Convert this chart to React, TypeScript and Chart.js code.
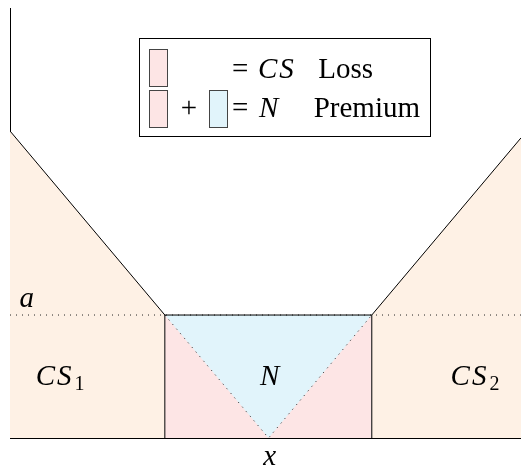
import React, { useEffect, useRef } from "react";
import { Chart, registerables } from "chart.js";

Chart.register(...registerables);

// Kinked demand curve (x, y)
const demandX = [0, 3.03, 7.08, 10];
const demandY = [7.14, 2.86, 2.86, 6.98];
// horizontal level "a" and apex of the N triangle
const aLevel = 2.86;
const apexX = 5.06;
const xRange = [0, 10];
const yRange = [0, 10];

const PEACH = "#fef1e5";
const PINK = "#fde5e5";
const BLUE = "#e1f4fb";
const SERIF = "'Liberation Serif', serif";

const pt = (i: number) => ({ x: demandX[i], y: demandY[i] });

function font(size: number, italic = false) {
  return `${italic ? "italic " : ""}${size}px ${SERIF}`;
}

function setSpacing(ctx: any, px: number) {
  if ("letterSpacing" in ctx) ctx.letterSpacing = `${px}px`;
}

function drawSub(ctx: CanvasRenderingContext2D, main: string, sub: string, cx: number, base: number) {
  ctx.font = font(29, true);
  setSpacing(ctx, 2);
  const w1 = ctx.measureText(main).width;
  setSpacing(ctx, 0);
  ctx.font = font(20);
  const w2 = ctx.measureText(sub).width;
  const start = cx - (w1 + w2 + 1) / 2;
  ctx.font = font(29, true);
  ctx.textAlign = "left";
  setSpacing(ctx, 2);
  ctx.fillText(main, start, base);
  setSpacing(ctx, 0);
  ctx.font = font(20);
  ctx.fillText(sub, start + w1 + 1, base + 5);
}

const textPlugin = {
  id: "texts",
  afterDraw(chart: any) {
    const ctx: CanvasRenderingContext2D = chart.ctx;
    const xs = chart.scales.x;
    const ys = chart.scales.y;
    ctx.save();
    ctx.fillStyle = "#000";
    ctx.textBaseline = "alphabetic";

    // plot labels
    ctx.font = font(29, true);
    ctx.textAlign = "center";
    ctx.fillText("a", xs.getPixelForValue(0.33), ys.getPixelForValue(aLevel) - 8);
    ctx.fillText("N", xs.getPixelForValue(apexX) + 1, ys.getPixelForValue(1.23));
    ctx.fillText("x", xs.getPixelForValue(apexX) + 1, chart.chartArea.bottom + 27);
    drawSub(ctx, "CS", "1", xs.getPixelForValue(0.98), ys.getPixelForValue(1.23));
    drawSub(ctx, "CS", "2", xs.getPixelForValue(9.1), ys.getPixelForValue(1.23));

    // legend box
    ctx.fillStyle = "#fff";
    ctx.fillRect(139.5, 38.5, 291, 98);
    ctx.strokeStyle = "#000";
    ctx.lineWidth = 1;
    ctx.strokeRect(139.5, 38.5, 291, 98);

    ctx.strokeStyle = "#444";
    const sw = (x: number, y: number, w: number, h: number, c: string) => {
      ctx.fillStyle = c;
      ctx.fillRect(x, y, w, h);
      ctx.strokeRect(x, y, w, h);
    };
    sw(149.5, 49.5, 18, 37, PINK);
    sw(149.5, 90.5, 18, 37, PINK);
    sw(209.5, 90.5, 18, 37, BLUE);

    ctx.fillStyle = "#000";
    ctx.textAlign = "left";
    // row 1
    ctx.font = font(29);
    ctx.fillText("=", 232, 78);
    ctx.font = font(29, true);
    setSpacing(ctx, 2);
    ctx.fillText("CS", 258, 78);
    setSpacing(ctx, 0);
    ctx.font = font(29);
    ctx.textAlign = "right";
    ctx.fillText("Loss", 373, 78);
    // row 2
    ctx.textAlign = "center";
    ctx.fillText("+", 189, 117);
    ctx.textAlign = "left";
    ctx.fillText("=", 232, 117);
    ctx.font = font(29, true);
    ctx.fillText("N", 259, 117);
    ctx.font = font(29);
    ctx.textAlign = "right";
    ctx.fillText("Premium", 420, 117);
    ctx.restore();
  },
};

const base = { pointRadius: 0, borderWidth: 0, tension: 0 };

export default function App() {
  const ref = useRef<HTMLCanvasElement | null>(null);
  useEffect(() => {
    if (!ref.current) return;
    const chart = new Chart(ref.current, {
      type: "line",
      data: {
        datasets: [
          { ...base, data: [pt(0), pt(1)], fill: "origin", backgroundColor: PEACH, order: 10 },
          { ...base, data: [pt(2), pt(3)], fill: "origin", backgroundColor: PEACH, order: 10 },
          { ...base, data: [pt(1), pt(2)], fill: "origin", backgroundColor: BLUE, order: 10 },
          {
            ...base,
            data: [pt(1), { x: apexX, y: 0 }, pt(2)],
            fill: "origin",
            backgroundColor: PINK,
            borderColor: "#222",
            borderWidth: 1,
            borderDash: [1, 5],
            order: 9,
          },
          {
            ...base,
            data: [{ x: xRange[0], y: aLevel }, { x: xRange[1], y: aLevel }],
            fill: false,
            borderColor: "#222",
            borderWidth: 1,
            borderDash: [1, 5],
            order: 8,
          },
          {
            ...base,
            data: [{ x: demandX[1], y: 0 }, pt(1)],
            fill: false,
            borderColor: "#000",
            borderWidth: 1,
            order: 1,
          },
          {
            ...base,
            data: [{ x: demandX[2], y: 0 }, pt(2)],
            fill: false,
            borderColor: "#000",
            borderWidth: 1,
            order: 1,
          },
          {
            ...base,
            data: demandX.map((_, i) => pt(i)),
            fill: false,
            borderColor: "#000",
            borderWidth: 1,
            order: 0,
          },
        ] as any,
      },
      options: {
        animation: false,
        responsive: false,
        devicePixelRatio: 1,
        layout: { padding: { left: 10, top: 8, right: 0, bottom: 29 } },
        plugins: { legend: { display: false }, tooltip: { enabled: false } },
        scales: {
          x: {
            type: "linear",
            min: xRange[0],
            max: xRange[1],
            grid: { display: false, drawTicks: false, tickLength: 0 },
            ticks: { display: false, padding: 0 },
            border: { display: true, color: "#000", width: 1 },
          },
          y: {
            type: "linear",
            min: yRange[0],
            max: yRange[1],
            grid: { display: false, drawTicks: false, tickLength: 0 },
            ticks: { display: false, padding: 0 },
            border: { display: true, color: "#000", width: 1 },
          },
        },
      } as any,
      plugins: [textPlugin],
    });
    return () => chart.destroy();
  }, []);
  return (
    <div style={{ position: "absolute", left: 0, top: 0, width: 521, height: 467, background: "#fff" }}>
      <canvas ref={ref} width={521} height={467} />
    </div>
  );
}
